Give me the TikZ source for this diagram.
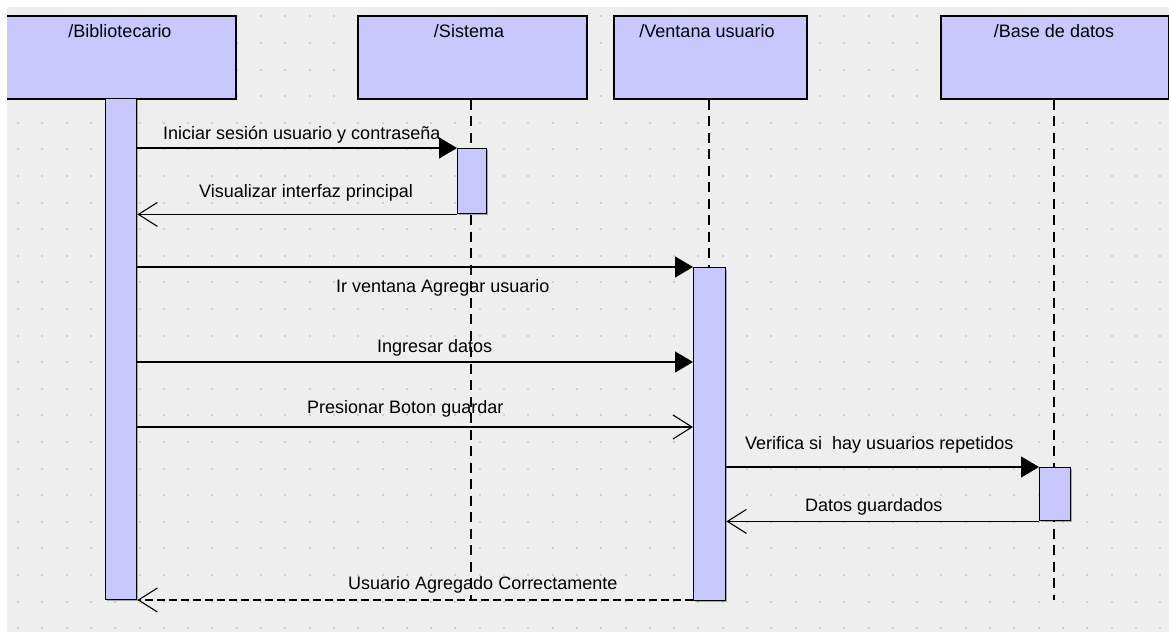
\documentclass[tikz,border=0pt]{standalone}
\usepackage{fontspec}
\setmainfont{Liberation Sans}
\usetikzlibrary{arrows.meta,calc,shadows}
\definecolor{canvas}{HTML}{EEEEEE}
\definecolor{lilac}{HTML}{C8C8FF}
\definecolor{griddot}{HTML}{CFCFCF}

\begin{document}
\begin{tikzpicture}[x=1pt,y=-1pt,
  boxshadow/.style={drop shadow={shadow xshift=1.5pt,shadow yshift=-1.5pt,fill=black,opacity=0.3}},
  objbox/.style={draw=black,line width=1.6pt,fill=lilac,inner sep=0pt,anchor=north west,boxshadow},
  actbox/.style={draw=black,line width=1.4pt,fill=lilac,inner sep=0pt,anchor=north west,boxshadow},
  lifeline/.style={line width=1.8pt,dash pattern=on 10pt off 6.5pt},
  txt/.style={inner sep=0pt,font=\fontsize{18}{20}\selectfont,anchor=base west},
  title/.style={inner sep=0pt,font=\fontsize{18}{20}\selectfont,anchor=base},
  msg/.style={line width=1.3pt},
  sync/.style={msg,-{Triangle[length=18pt,width=21pt]}},
  reply/.style={msg,-{Straight Barb[length=19pt,width=24pt,line width=1.1pt]}},
  result/.style={reply,dash pattern=on 8pt off 4pt}]

% page and canvas
\useasboundingbox (0,0) rectangle (1169,632);
\fill[white] (0,0) rectangle (1169,632);
\fill[canvas] (7,7) rectangle (1169,632);

\begin{scope}
\clip (7,7) rectangle (1169,632);
% grid dots
\foreach \i in {0,...,47}
  \foreach \j in {0,...,23}
    \fill[griddot] ({17+24.3*\i},{15.4+26.6*\j}) rectangle ++(2,2);

% object heads
\node[objbox,minimum width=230pt,minimum height=83pt] (objB) at (5,15) {};
\node[objbox,minimum width=229pt,minimum height=83pt] (objS) at (357,15) {};
\node[objbox,minimum width=193pt,minimum height=83pt] (objV) at (613,15) {};
\node[objbox,minimum width=228pt,minimum height=83pt] (objD) at (940,15) {};

\node[title] (tB) at (120,37) {/Bibliotecario};
\node[title] (tS) at (469,37) {/Sistema};
\node[title] (tV) at (707,37) {/Ventana usuario};
\node[title] (tD) at (1054,37) {/Base de datos};

% lifelines
\coordinate (endS) at (471,600);
\coordinate (endD) at (1054,600);
\draw[lifeline] (objS.south -| endS) -- (endS);
\draw[lifeline] (objD.south -| endD) -- (endD);
\coordinate (topV) at (709,267);
\draw[lifeline] (objV.south -| topV) -- (topV);

% activation bars
\node[actbox,minimum width=31pt,minimum height=501pt] (actB) at (105,98) {};
\node[actbox,minimum width=29pt,minimum height=65pt] (actS) at (457,148) {};
\node[actbox,minimum width=32pt,minimum height=333pt] (actV) at (693,267) {};
\node[actbox,minimum width=31pt,minimum height=53pt] (actD) at (1039,467) {};

% message rows
\coordinate (r4) at (0,362);
\coordinate (r5) at (0,427);
\coordinate (r9) at (0,600);

% messages
\draw[sync] (actB.east |- actS.north west) -- (actS.north west);
\draw[reply] (actS.south west) -- (actB.east |- actS.south west);
\draw[sync] (actB.east |- actV.north west) -- (actV.north west);
\draw[sync] (actB.east |- r4) -- (actV.west |- r4);
\draw[reply] (actB.east |- r5) -- (actV.west |- r5);
\draw[sync] (actV.east |- actD.north west) -- (actD.north west);
\draw[reply] (actD.south west) -- (actV.east |- actD.south west);
\draw[result] (actV.west |- r9) -- (actB.east |- r9);

% message labels
\node[txt] (l1) at (163,139) {Iniciar sesión usuario y contraseña};
\node[txt] (l2) at (199,197) {Visualizar interfaz principal};
\node[txt] (l3) at (336,292) {Ir ventana Agregar usuario};
\node[txt] (l4) at (377,352) {Ingresar datos};
\node[txt] (l5) at (307,413) {Presionar Boton guardar};
\node[txt] (l6) at (745,449) {Verifica si\ \ hay usuarios repetidos};
\node[txt] (l7) at (805,511) {Datos guardados};
\node[txt] (l8) at (348,589) {Usuario Agregado Correctamente};
\end{scope}
\end{tikzpicture}
\end{document}
